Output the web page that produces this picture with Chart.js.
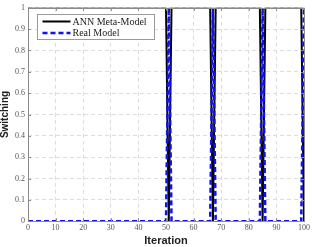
<!DOCTYPE html>
<html>
<head>
<meta charset="utf-8">
<script src="https://cdn.jsdelivr.net/npm/chart.js@4"></script>
<style>
  html,body{margin:0;padding:0;background:#fff;}
  #wrap{width:312px;height:247px;}
</style>
</head>
<body>
<div id="wrap"><canvas id="c" width="312" height="247"></canvas></div>
<script>
// breakpoints of each series (iteration, switching)
const annX  = [0, 50, 51, 52, 66, 67, 68, 84, 85, 86, 99, 100];
const annY  = [1, 1, 0, 1, 1, 0, 1, 1, 0, 1, 1, 0];
const realX = [0, 50, 51, 52, 66, 67, 68, 84, 85, 86, 99, 100];
const realY = [0, 0, 1, 0, 0, 1, 0, 0, 1, 0, 0, 1];
const seriesNames = ['ANN Meta-Model', 'Real Model'];

const serif = "'Liberation Serif', 'Times New Roman', serif";
const sans = "'Liberation Sans', Arial, sans-serif";

function pts(xs, ys){ return xs.map((x,i)=>({x:x, y:ys[i]})); }

// frame + inward ticks + legend, matlab style
const framePlugin = {
  id:'frame',
  afterDraw(chart){
    const ctx = chart.ctx, a = chart.chartArea;
    const xs = chart.scales.x, ys = chart.scales.y;
    ctx.save();
    ctx.strokeStyle = '#8a8a8a';
    ctx.lineWidth = 1;
    ctx.strokeRect(Math.round(a.left)+0.5, Math.round(a.top)+0.5, Math.round(a.right-a.left), Math.round(a.bottom-a.top));
    ctx.beginPath();
    xs.ticks.forEach(t=>{
      const px = Math.round(xs.getPixelForValue(t.value))+0.5;
      ctx.moveTo(px, a.bottom); ctx.lineTo(px, a.bottom-3);
      ctx.moveTo(px, a.top); ctx.lineTo(px, a.top+3);
    });
    ys.ticks.forEach(t=>{
      const py = Math.round(ys.getPixelForValue(t.value))+0.5;
      ctx.moveTo(a.left, py); ctx.lineTo(a.left+3, py);
      ctx.moveTo(a.right, py); ctx.lineTo(a.right-3, py);
    });
    ctx.stroke();

    // legend box
    const bx = 37.5, by = 14.5, bw = 117, bh = 25;
    ctx.fillStyle = '#fff';
    ctx.fillRect(bx, by, bw, bh);
    ctx.strokeStyle = '#9a9a9a';
    ctx.strokeRect(bx, by, bw, bh);
    ctx.font = '10px ' + serif;
    ctx.textBaseline = 'middle';
    chart.data.datasets.forEach((ds,i)=>{
      const ly = by + 7 + i*11.5;
      ctx.strokeStyle = ds.borderColor;
      ctx.lineWidth = ds.borderWidth;
      ctx.setLineDash(ds.borderDash || []);
      ctx.beginPath();
      ctx.moveTo(bx+5, ly); ctx.lineTo(bx+33, ly);
      ctx.stroke();
      ctx.setLineDash([]);
      ctx.fillStyle = '#222';
      ctx.fillText(ds.label, bx+35, ly+0.5);
    });
    ctx.restore();
  }
};

new Chart(document.getElementById('c'), {
  type:'line',
  data:{
    datasets:[
      { label:seriesNames[0], data:pts(annX, annY), borderColor:'#000', borderWidth:2,
        pointRadius:0, tension:0, order:1 },
      { label:seriesNames[1], data:pts(realX, realY), borderColor:'#1010f0', borderWidth:2.5,
        borderDash:[5,3], pointRadius:0, tension:0, order:0 }
    ]
  },
  options:{
    responsive:false,
    animation:false,
    layout:{padding:{top:-3, right:5, left:-1, bottom:-1}},
    plugins:{legend:{display:false}, tooltip:{enabled:false}},
    scales:{
      x:{
        type:'linear', min:0, max:100,
        ticks:{stepSize:10, color:'#555', font:{family:serif, size:8}, padding:2, maxRotation:0},
        grid:{color:'#dcdcdc', drawTicks:false},
        border:{display:false, dash:[4,3]},
        title:{display:true, text:'Iteration', color:'#222', font:{family:sans, size:11, weight:'bold'}, padding:{top:0, bottom:0}}
      },
      y:{
        min:0, max:1,
        ticks:{stepSize:0.1, color:'#555', font:{family:serif, size:8}, padding:3,
          callback:v=>String(Math.round(v*10)/10)},
        grid:{color:'#dcdcdc', drawTicks:false},
        border:{display:false, dash:[4,3]},
        title:{display:true, text:'Switching', color:'#222', font:{family:sans, size:10, weight:'bold'}, padding:{top:0, bottom:1}}
      }
    }
  },
  plugins:[framePlugin]
});
</script>
</body>
</html>
